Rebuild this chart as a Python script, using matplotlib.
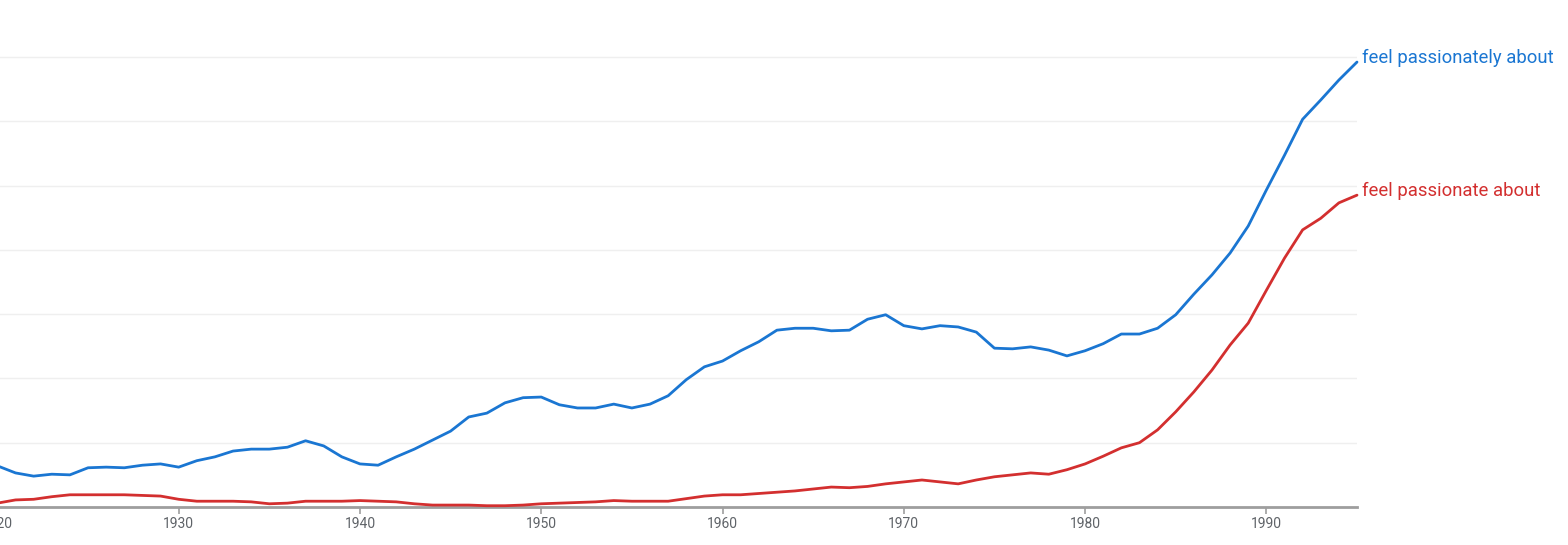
"""
Ngram-style comparison: feel passionately about vs feel passionate about
"""
import matplotlib
matplotlib.use('Agg')
import matplotlib.pyplot as plt
import numpy as np

# %% data (arbitrary units: one gridline = 1)
years = list(range(1920, 1996))

passionately = [
    0.64, 0.53, 0.48, 0.51, 0.50, 0.61, 0.62, 0.61, 0.65, 0.67,
    0.62, 0.72, 0.78, 0.87, 0.90, 0.90, 0.93, 1.03, 0.95, 0.78,
    0.67, 0.65, 0.78, 0.90, 1.04, 1.18, 1.40, 1.46, 1.62, 1.70,
    1.71, 1.59, 1.54, 1.54, 1.60, 1.54, 1.60, 1.73, 1.98, 2.18,
    2.27, 2.43, 2.57, 2.75, 2.78, 2.78, 2.74, 2.75, 2.92, 2.99,
    2.82, 2.77, 2.82, 2.80, 2.72, 2.47, 2.46, 2.49, 2.44, 2.35,
    2.43, 2.54, 2.69, 2.69, 2.78, 2.99, 3.31, 3.61, 3.95, 4.37,
    4.93, 5.47, 6.03, 6.33, 6.64, 6.92,
]

passionate = [
    0.06, 0.11, 0.12, 0.16, 0.19, 0.19, 0.19, 0.19, 0.18, 0.17,
    0.12, 0.09, 0.09, 0.09, 0.08, 0.05, 0.06, 0.09, 0.09, 0.09,
    0.10, 0.09, 0.08, 0.05, 0.03, 0.03, 0.03, 0.02, 0.02, 0.03,
    0.05, 0.06, 0.07, 0.08, 0.10, 0.09, 0.09, 0.09, 0.13, 0.17,
    0.19, 0.19, 0.21, 0.23, 0.25, 0.28, 0.31, 0.30, 0.32, 0.36,
    0.39, 0.42, 0.39, 0.36, 0.42, 0.47, 0.50, 0.53, 0.51, 0.58,
    0.67, 0.79, 0.92, 1.00, 1.20, 1.48, 1.79, 2.13, 2.52, 2.86,
    3.37, 3.87, 4.31, 4.49, 4.73, 4.85,
]

labels = ['feel passionately about', 'feel passionate about']
colors = ['#1a76d2', '#d32f2f']

# %% figure
W, H = 1568, 545
fig = plt.figure(figsize=(W / 100, H / 100), dpi=100)
ax = fig.add_axes([-2.6 / W, 38 / H, 1359.6 / W, 507 / H])

plt.rcParams['font.family'] = ['Roboto', 'DejaVu Sans']

for series, label, color in zip([passionately, passionate], labels, colors):
    ax.plot(years, series, color=color, lw=2.0, solid_capstyle='round',
            solid_joinstyle='round', clip_on=False, zorder=3)
    ax.annotate(label, xy=(years[-1], series[-1]), xytext=(5, 4),
                textcoords='offset pixels', color=color, fontsize=13.3,
                family=['Roboto', 'DejaVu Sans'], va='center', ha='left',
                annotation_clip=False)

ax.set_xlim(1920, 1995)
ax.set_ylim(0, 507 / 64.3)

ax.set_yticks(np.arange(1, 8))
ax.yaxis.grid(True, color='#efefef', lw=1)
ax.tick_params(axis='y', left=False, labelleft=False)

ax.set_xticks(range(1920, 2000, 10))
ax.tick_params(axis='x', direction='out', length=5, width=1.2,
               color='#9e9e9e', labelcolor='#5f6368', labelsize=10, pad=2.5)
for lab in ax.get_xticklabels():
    lab.set_family(['Roboto', 'DejaVu Sans'])

for side in ['top', 'right', 'left']:
    ax.spines[side].set_visible(False)
ax.spines['bottom'].set_color('#9e9e9e')
ax.spines['bottom'].set_linewidth(2)
ax.set_axisbelow(True)

plt.savefig('out.png', dpi=100)
